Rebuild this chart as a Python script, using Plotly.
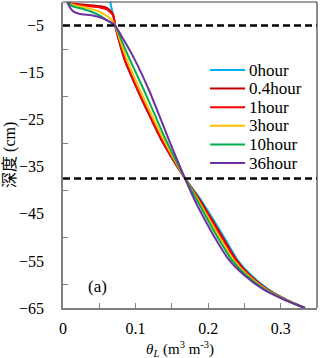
import plotly.graph_objects as go

# ---- data ----
series_names = ["0hour", "0.4hour", "1hour", "3hour", "10hour", "36hour"]
series_colors = ["#00B0F0", "#C00000", "#FF0000", "#FFC000", "#00B050", "#7030A0"]

# shared lower-part depths (cm)
depth_low = [-5, -8.2, -12.4, -18.8, -25.1, -29.4, -37.5, -42.1, -46.3, -50.5, -54.8, -58.0, -61.0, -63.3, -65]

# near-surface parts (depth, theta) for each series
top_depth_0h = [0, -3.2]
top_theta_0h = [0.065, 0.0696]
top_depth_04h = [0, -0.3, -0.6, -0.9, -1.3, -2.6]
top_theta_04h = [0.007, 0.012, 0.031, 0.052, 0.061, 0.069]
top_depth_1h = [0, -0.4, -0.8, -1.2, -1.6, -2.9]
top_theta_1h = [0.007, 0.012, 0.031, 0.052, 0.061, 0.069]
top_depth_3h = [0, -0.5, -1.3, -2.2, -3.5]
top_theta_3h = [0.007, 0.012, 0.035, 0.052, 0.065]
top_depth_10h = [0, -0.8, -1.6, -2.6, -4.0]
top_theta_10h = [0.007, 0.012, 0.030, 0.047, 0.062]
top_depth_36h = [0, -1.0, -2.0, -2.5, -2.9, -3.4, -4.0, -4.5]
top_theta_36h = [0.006, 0.009, 0.014, 0.022, 0.042, 0.054, 0.062, 0.068]

low_theta_0h = [0.0719, 0.0770, 0.0850, 0.1029, 0.1221, 0.1359, 0.1682, 0.1903, 0.2075, 0.2240, 0.2405, 0.2590, 0.2824, 0.3085, 0.3333]
low_theta_04h = [0.0719, 0.0772, 0.0853, 0.1032, 0.1224, 0.1362, 0.1682, 0.1889, 0.2054, 0.2219, 0.2391, 0.2569, 0.2810, 0.3080, 0.3333]
low_theta_1h = [0.0719, 0.0774, 0.0857, 0.1036, 0.1228, 0.1366, 0.1682, 0.1875, 0.2040, 0.2205, 0.2380, 0.2563, 0.2803, 0.3077, 0.3333]
low_theta_3h = [0.0719, 0.0788, 0.0884, 0.1063, 0.1256, 0.1393, 0.1682, 0.1861, 0.2019, 0.2177, 0.2349, 0.2542, 0.2790, 0.3072, 0.3333]
low_theta_10h = [0.0719, 0.0809, 0.0926, 0.1118, 0.1297, 0.1421, 0.1682, 0.1847, 0.1996, 0.2150, 0.2325, 0.2521, 0.2776, 0.3066, 0.3333]
low_theta_36h = [0.0719, 0.0843, 0.0994, 0.1187, 0.1352, 0.1462, 0.1682, 0.1815, 0.1957, 0.2109, 0.2288, 0.2494, 0.2755, 0.3058, 0.3333]

ref_depths = [-5, -37.5]
y_ticks = [-5, -15, -25, -35, -45, -55, -65]
y_minor = [-10, -20, -30, -40, -50, -60]
x_ticks = [0, 0.1, 0.2, 0.3]
x_tick_text = ["0", "0.1", "0.2", "0.3"]
x_minor = [0.05, 0.15, 0.25, 0.35]

tops = [(top_depth_0h, top_theta_0h), (top_depth_04h, top_theta_04h), (top_depth_1h, top_theta_1h),
        (top_depth_3h, top_theta_3h), (top_depth_10h, top_theta_10h), (top_depth_36h, top_theta_36h)]
lows = [low_theta_0h, low_theta_04h, low_theta_1h, low_theta_3h, low_theta_10h, low_theta_36h]

FONT = "Liberation Serif, Times New Roman, serif"
fig = go.Figure()

for name, color, (td, tt), lt in zip(series_names, series_colors, tops, lows):
    fig.add_trace(go.Scatter(
        x=tt + lt, y=td + depth_low, mode="lines", name=name, showlegend=False,
        line=dict(color=color, width=2, shape="spline", smoothing=0.6),
    ))

for d in ref_depths:
    fig.add_shape(type="line", xref="paper", x0=0, x1=1, yref="y", y0=d, y1=d,
                  line=dict(color="black", width=2.5, dash="7px,4px"))

# top and right frame
fig.add_shape(type="line", xref="paper", yref="paper", x0=0, x1=1, y0=1, y1=1,
              line=dict(color="#404040", width=1.2))
fig.add_shape(type="line", xref="paper", yref="paper", x0=1, x1=1, y0=0, y1=1,
              line=dict(color="#404040", width=1.2))

# legend (drawn by hand for exact row spacing)
leg_x0, leg_x1, leg_tx = 0.579, 0.717, 0.724
leg_y_top, leg_step = 1 - 68 / 306, 18.6 / 306
for i, (name, color) in enumerate(zip(series_names, series_colors)):
    yy = leg_y_top - i * leg_step
    fig.add_shape(type="line", xref="paper", yref="paper", x0=leg_x0, x1=leg_x1, y0=yy, y1=yy,
                  line=dict(color=color, width=2))
    fig.add_annotation(text=name, xref="paper", yref="paper", x=leg_tx, y=yy,
                       xanchor="left", yanchor="middle", showarrow=False,
                       font=dict(family=FONT, size=17, color="black"))

fig.add_annotation(text="(a)", xref="paper", yref="y", x=0.09, y=-60.5, showarrow=False,
                   font=dict(family=FONT, size=17, color="black"))
fig.add_annotation(text="<i>θ</i><sub><i>L</i></sub> (m<sup>3</sup> m<sup>-3</sup>)",
                   xref="paper", yref="paper", x=0.46, y=-0.134, xanchor="center", yanchor="middle",
                   showarrow=False, font=dict(family=FONT, size=15, color="black"))
fig.add_annotation(text="深度 (cm)", xref="paper", yref="paper", x=-0.209, y=0.5,
                   xanchor="center", yanchor="middle", textangle=-90, showarrow=False,
                   font=dict(family="Liberation Serif, Noto Sans CJK SC", size=16, color="black"))

fig.update_layout(
    width=320, height=358,
    margin=dict(l=63, r=3, t=2, b=50),
    paper_bgcolor="white", plot_bgcolor="white",
    font=dict(family=FONT, size=16, color="black"),
    showlegend=False,
    xaxis=dict(range=[0, 0.35], tickmode="array", tickvals=x_ticks, ticktext=x_tick_text,
               ticks="inside", ticklen=5, tickcolor="#7f7f7f",
               showline=True, linecolor="#7f7f7f", linewidth=1.5,
               showgrid=False, zeroline=False, ticklabelstandoff=5,
               tickfont=dict(family=FONT, size=16),
               minor=dict(tickmode="array", tickvals=x_minor, ticks="inside", ticklen=5,
                          tickcolor="#7f7f7f", showgrid=False)),
    yaxis=dict(range=[-65, 0], tickmode="array", tickvals=y_ticks,
               ticks="", showline=True, linecolor="#7f7f7f", linewidth=1.5,
               showgrid=False, zeroline=False, ticklabelstandoff=14,
               tickfont=dict(family=FONT, size=16),
               minor=dict(tickmode="array", tickvals=y_minor, ticks="inside", ticklen=5,
                          tickcolor="#7f7f7f", showgrid=False)),
)

fig.write_html("out.html")
